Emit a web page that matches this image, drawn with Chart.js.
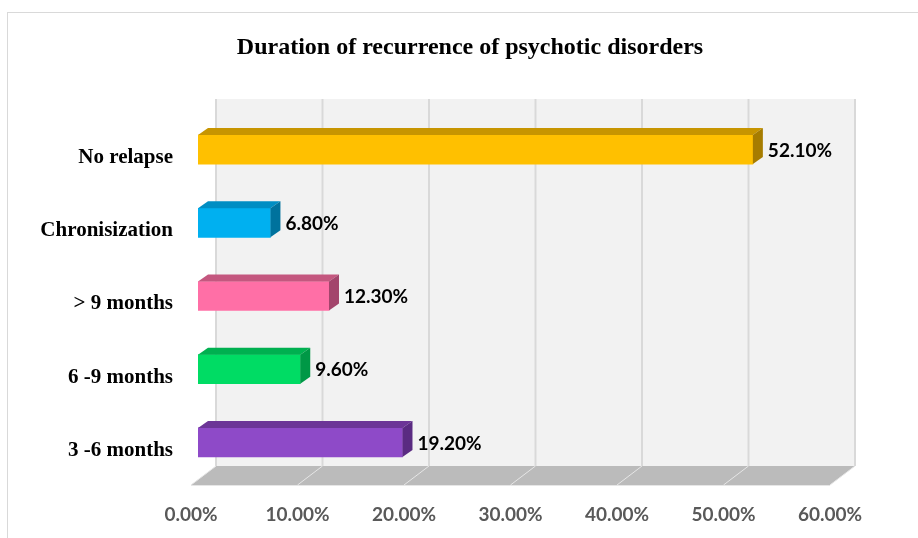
<!DOCTYPE html>
<html>
<head>
<meta charset="utf-8">
<script src="https://cdn.jsdelivr.net/npm/chart.js@4"></script>
<style>
  html, body { margin: 0; padding: 0; background: #fff; }
  #wrap { width: 918px; height: 538px; }
</style>
</head>
<body>
<div id="wrap"><canvas id="relapseChart" width="918" height="538"></canvas></div>
<script>
const chartTitle = 'Duration of recurrence of psychotic disorders';
const categories = ['No relapse', 'Chronisization', '> 9 months', '6 -9 months', '3 -6 months'];
const percentValues = [52.1, 6.8, 12.3, 9.6, 19.2];
const xTicks = [0, 10, 20, 30, 40, 50, 60];

// front / top / side shades for each bar
const frontColors = ['#FFC000', '#00B0F0', '#FF6FA6', '#00DC64', '#8E4AC8'];
const topColors = ['#C79500', '#008EC3', '#C4577F', '#00B050', '#6C3597'];
const sideColors = ['#A67C00', '#00729D', '#A3456C', '#009846', '#5A2B82'];

const DEPTH_X = 10, DEPTH_Y = 7;     // bar extrusion
const WALL_X = 18, WALL_TOP = 99, WALL_BOTTOM = 466;
const FLOOR_FRONT_X = -7, FLOOR_FRONT_Y = 485;

// outer border and heading
const frame = {
  id: 'frame',
  beforeDraw(chart) {
    const ctx = chart.ctx;
    ctx.save();
    ctx.strokeStyle = '#D9D9D9';
    ctx.lineWidth = 1;
    ctx.strokeRect(7.5, 12.5, chart.width + 20, chart.height + 20);
    ctx.fillStyle = '#000';
    ctx.font = 'bold 24px "Liberation Serif"';
    ctx.textAlign = 'center';
    ctx.textBaseline = 'middle';
    ctx.fillText(chartTitle, 470, 48);
    ctx.restore();
  }
};

const wallAndFloor = {
  id: 'wallAndFloor',
  beforeDatasetsDraw(chart) {
    const ctx = chart.ctx;
    const xs = chart.scales.x;
    const left = xs.getPixelForValue(xTicks[0]);
    const right = xs.getPixelForValue(xTicks[xTicks.length - 1]);
    ctx.save();
    // back wall
    ctx.fillStyle = '#F2F2F2';
    ctx.fillRect(left + WALL_X, WALL_TOP, right - left, WALL_BOTTOM - WALL_TOP);
    // floor
    ctx.fillStyle = '#BBBBBB';
    ctx.beginPath();
    ctx.moveTo(left + WALL_X, WALL_BOTTOM);
    ctx.lineTo(right + WALL_X, WALL_BOTTOM);
    ctx.lineTo(right + FLOOR_FRONT_X, FLOOR_FRONT_Y);
    ctx.lineTo(left + FLOOR_FRONT_X, FLOOR_FRONT_Y);
    ctx.closePath();
    ctx.fill();
    // grid on wall and floor
    xTicks.forEach(t => {
      const p = xs.getPixelForValue(t);
      ctx.strokeStyle = '#D9D9D9';
      ctx.lineWidth = 2;
      ctx.beginPath();
      ctx.moveTo(p + WALL_X, WALL_TOP);
      ctx.lineTo(p + WALL_X, WALL_BOTTOM);
      ctx.stroke();
      ctx.strokeStyle = '#E6E6E6';
      ctx.lineWidth = 1;
      ctx.beginPath();
      ctx.moveTo(p + WALL_X, WALL_BOTTOM);
      ctx.lineTo(p + FLOOR_FRONT_X, FLOOR_FRONT_Y);
      ctx.stroke();
    });
    ctx.strokeStyle = '#E6E6E6';
    ctx.beginPath();
    ctx.moveTo(left + FLOOR_FRONT_X, FLOOR_FRONT_Y + 0.5);
    ctx.lineTo(right + FLOOR_FRONT_X, FLOOR_FRONT_Y + 0.5);
    ctx.stroke();
    ctx.restore();
  }
};

const bars3d = {
  id: 'bars3d',
  afterDatasetsDraw(chart) {
    const ctx = chart.ctx;
    const meta = chart.getDatasetMeta(0);
    ctx.save();
    meta.data.forEach((bar, i) => {
      const { x, y, base, height } = bar.getProps(['x', 'y', 'base', 'height'], true);
      const top = y - height / 2, bottom = y + height / 2;
      // top face
      ctx.fillStyle = topColors[i];
      ctx.beginPath();
      ctx.moveTo(base, top);
      ctx.lineTo(base + DEPTH_X, top - DEPTH_Y);
      ctx.lineTo(x + DEPTH_X, top - DEPTH_Y);
      ctx.lineTo(x, top);
      ctx.closePath();
      ctx.fill();
      // side face
      ctx.fillStyle = sideColors[i];
      ctx.beginPath();
      ctx.moveTo(x, top);
      ctx.lineTo(x + DEPTH_X, top - DEPTH_Y);
      ctx.lineTo(x + DEPTH_X, bottom - DEPTH_Y);
      ctx.lineTo(x, bottom);
      ctx.closePath();
      ctx.fill();
      // value label
      ctx.fillStyle = '#000';
      ctx.font = 'bold 19px Lato';
      ctx.textAlign = 'left';
      ctx.textBaseline = 'middle';
      ctx.fillText(percentValues[i].toFixed(2) + '%', x + DEPTH_X + 5, y + 1);
    });
    ctx.restore();
  }
};

new Chart(document.getElementById('relapseChart'), {
  type: 'bar',
  data: {
    labels: categories,
    datasets: [{
      data: percentValues,
      backgroundColor: frontColors,
      borderWidth: 0,
      barThickness: 29
    }]
  },
  options: {
    indexAxis: 'y',
    responsive: false,
    animation: false,
    layout: { padding: { left: 0, right: 81, top: 113, bottom: 0 } },
    plugins: {
      legend: { display: false },
      tooltip: { enabled: false },
      title: { display: false }
    },
    scales: {
      x: {
        min: 0,
        max: 60,
        afterBuildTicks(scale) { scale.ticks = xTicks.map(v => ({ value: v })); },
        afterFit(scale) { scale.height = 59; },
        grid: { display: false },
        border: { display: false },
        ticks: {
          padding: 16,
          labelOffset: FLOOR_FRONT_X,
          color: '#595959',
          font: { family: 'Lato', size: 19, weight: 'bold' },
          callback: v => Number(v).toFixed(2) + '%'
        }
      },
      y: {
        afterFit(scale) { scale.width = 198; },
        grid: { display: false },
        border: { display: false },
        ticks: {
          padding: 17,
          labelOffset: 8,
          color: '#000',
          font: { family: 'Liberation Serif', size: 21, weight: 'bold' }
        }
      }
    }
  },
  plugins: [frame, wallAndFloor, bars3d]
});
</script>
</body>
</html>
